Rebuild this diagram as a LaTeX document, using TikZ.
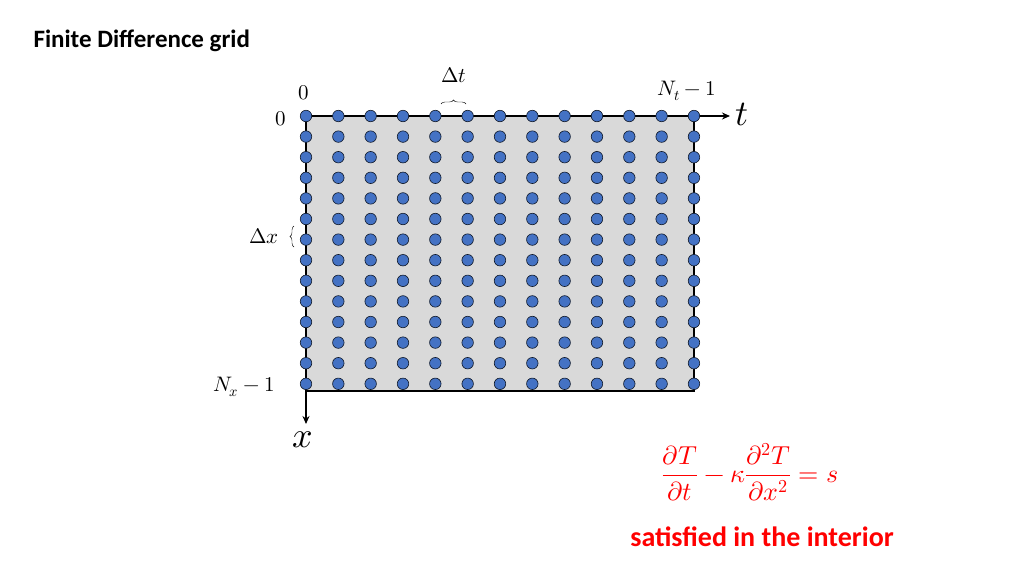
\documentclass[tikz,border=0pt]{standalone}
\usepackage{fontspec}
\usepackage{unicode-math}
\setmathfont{Latin Modern Math}
\newfontfamily\carlitofont{Carlito}
\usetikzlibrary{decorations.pathreplacing,arrows.meta}
\definecolor{dotblue}{HTML}{4472C4}
\definecolor{gridgray}{HTML}{D9D9D9}
\begin{document}
\begin{tikzpicture}[x=1pt,y=-1pt,
  dot/.style={circle,draw=black!80!dotblue,line width=0.6pt,fill=dotblue,minimum size=11.5pt,inner sep=0pt},
  axis/.style={line width=2pt,-{Stealth[length=8pt,width=7pt]}},
  edge/.style={line width=2pt},
  lab/.style={font=\fontsize{21}{24}\selectfont}]
\useasboundingbox (0,0) rectangle (1024,576);
\node[anchor=west,font=\carlitofont\bfseries\fontsize{25}{28}\selectfont] (title) at (30,41) {Finite Difference grid};
\fill[gridgray] (306,116) rectangle (694,391);
\coordinate (o) at (306,116);
\coordinate (tend) at (730,116);
\coordinate (xend) at (306,424);
\coordinate (br) at (694,391);
\coordinate (tr) at (694,116);
\coordinate (bl) at (306,391);
\draw[edge] (tr) -- (br) -- (bl);
\draw[axis] (o) -- (tend);
\draw[axis] (o) -- (xend);
\foreach \i in {0,...,12}{
  \foreach \j in {0,...,13}{
    \node[dot] (d-\i-\j) at ({306+\i*32.33},{116+\j*20.6}) {};
  }
}
\node[anchor=west,font=\fontsize{36}{36}\selectfont] (tlab) at (732,114) {$t$};
\node[font=\fontsize{36}{36}\selectfont] (xlab) at (303,440) {$x$};
\node[lab] (t0) at (304,93) {$0$};
\node[lab] (x0) at (281,119) {$0$};
\node[lab] (nt) at (687,91) {$N_t-1$};
\node[lab] (nx) at (244,387) {$N_x-1$};
\draw[decorate,decoration={brace,amplitude=4pt}] (441,104) -- (466,104);
\node[lab] (dt) at (454,75) {$\Delta t$};
\draw[decorate,decoration={brace,amplitude=4pt}] (294,247) -- (294,226);
\node[lab] (dx) at (264,236) {$\Delta x$};
\node[font=\fontsize{26}{30}\selectfont,text=red] (eq) at (750,472) {$\displaystyle\frac{\partial T}{\partial t}-\kappa\frac{\partial^2 T}{\partial x^2}=s$};
\node[font=\carlitofont\bfseries\fontsize{28}{32}\selectfont,text=red] (sat) at (762,537) {satisfied in the interior};
\end{tikzpicture}
\end{document}
